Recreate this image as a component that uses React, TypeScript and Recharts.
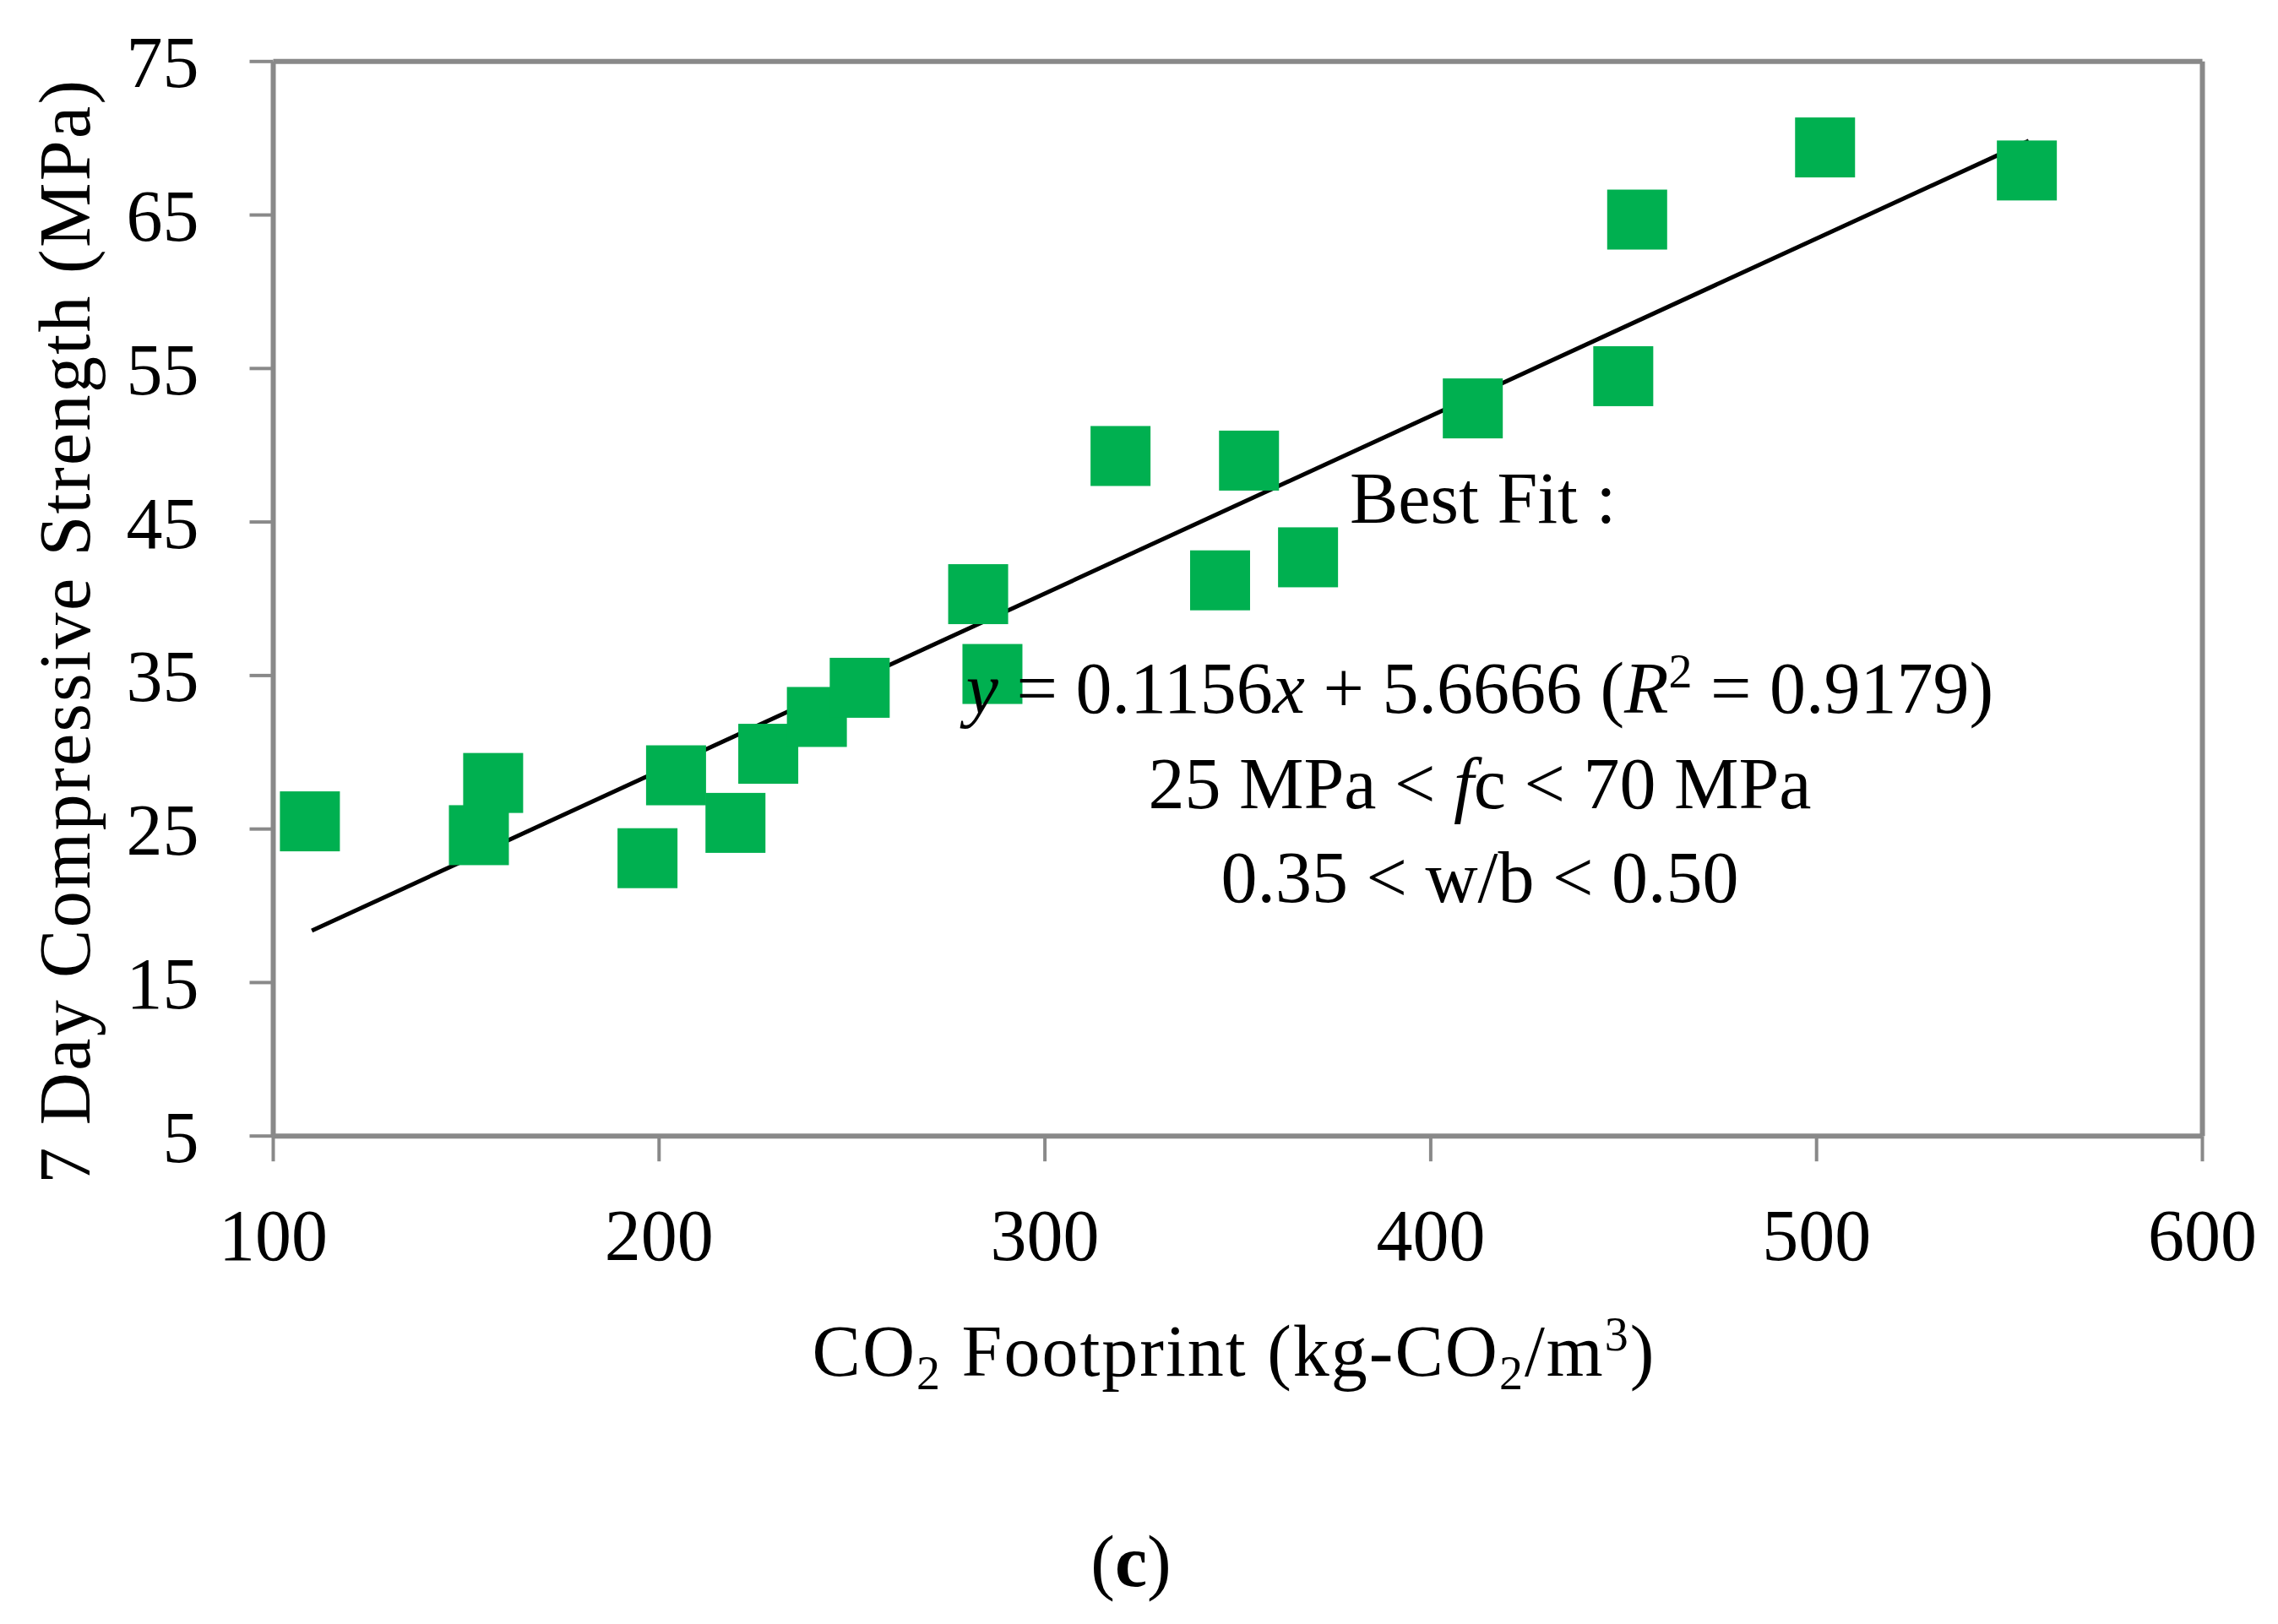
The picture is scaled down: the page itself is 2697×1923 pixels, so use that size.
import React from 'react';
import {
  ScatterChart,
  Scatter,
  XAxis,
  YAxis,
  ReferenceLine,
} from 'recharts';

// CO2 footprint (kg-CO2/m3) of each mix
const co2Footprint = [
  109.5, 153.3, 157.0, 197.0, 204.4, 219.8, 228.3, 240.9, 252.0, 282.7,
  286.4, 319.6, 345.4, 352.9, 368.2, 410.9, 449.9, 453.5, 502.2, 554.5,
];
// 7-day compressive strength (MPa) of each mix
const strength7Day = [
  25.5, 24.6, 28.0, 23.1, 28.5, 25.4, 29.9, 32.3, 34.2, 40.3,
  35.1, 49.3, 41.2, 49.0, 42.7, 52.4, 54.5, 64.7, 69.4, 67.9,
];

const xTicks = [100, 200, 300, 400, 500, 600];
const yTicks = [5, 15, 25, 35, 45, 55, 65, 75];

// best fit printed on the figure: y = 0.1156x + 5.6666
const fitSlope = 0.1156;
const fitIntercept = 5.6666;
const fitRange = [110, 555];

const W = 2697;
const H = 1923;
const FONT = '"Liberation Serif", "Times New Roman", serif';
const GREY = '#898989';
const GREEN = '#00B050';

const points = co2Footprint.map((x, i) => ({ x, y: strength7Day[i] }));
const fitSegment = fitRange.map((x) => ({ x, y: fitSlope * x + fitIntercept }));

function SquareMarker(props: { cx?: number; cy?: number }) {
  const { cx = 0, cy = 0 } = props;
  const s = 71;
  return <rect x={cx - s / 2} y={cy - s / 2} width={s} height={s} fill={GREEN} />;
}

// titles and the fit note sit above the markers, as in the original
function TextLayer() {
  return (
    <svg
      width={W}
      height={H}
      style={{ position: 'absolute', left: 0, top: 0, pointerEvents: 'none' }}
    >
      <g fontFamily={FONT} fill="#000" fontSize={86}>
        <text x={1598} y={619}>Best Fit :</text>
        <text x={1752} y={844} textAnchor="middle">
          <tspan fontStyle="italic">y</tspan> = 0.1156<tspan fontStyle="italic">x</tspan> + 5.6666 (
          <tspan fontStyle="italic">R</tspan>
          <tspan fontSize={56} dy={-30}>2</tspan>
          <tspan dy={30}> = 0.9179)</tspan>
        </text>
        <text x={1752} y={957} textAnchor="middle">
          25 MPa &lt; <tspan fontStyle="italic">f</tspan>c &lt; 70 MPa
        </text>
        <text x={1752} y={1068} textAnchor="middle">
          0.35 &lt; w/b &lt; 0.50
        </text>

        <text x={1461} y={1629} textAnchor="middle" letterSpacing={2}>
          CO<tspan fontSize={56} dy={16}>2</tspan>
          <tspan dy={-16}> Footprint (kg-CO</tspan>
          <tspan fontSize={56} dy={16}>2</tspan>
          <tspan dy={-16}>/m</tspan>
          <tspan fontSize={56} dy={-30}>3</tspan>
          <tspan dy={30}>)</tspan>
        </text>

        <text
          x={106}
          y={747}
          textAnchor="middle"
          letterSpacing={2.4}
          transform="rotate(-90 106 747)"
        >
          7 Day Compressive Strength (MPa)
        </text>

        <text x={1339} y={1878} textAnchor="middle">
          (<tspan fontWeight="bold">c</tspan>)
        </text>
      </g>
    </svg>
  );
}

export default function App() {
  return (
    <div style={{ position: 'absolute', left: 0, top: 0, width: W, height: H, background: '#fff' }}>
      <ScatterChart
        width={W}
        height={H}
        margin={{ top: 72.8, right: 89.5, bottom: 477.8, left: 223.5 }}
      >
        <XAxis
          type="number"
          dataKey="x"
          domain={[100, 600]}
          ticks={xTicks}
          height={100}
          axisLine={{ stroke: GREY, strokeWidth: 6 }}
          tickLine={{ stroke: GREY, strokeWidth: 4 }}
          tickSize={30}
          tickMargin={56}
          tick={{ fill: '#000', fontSize: 86, fontFamily: FONT }}
          interval={0}
        />
        <YAxis
          type="number"
          dataKey="y"
          domain={[5, 75]}
          ticks={yTicks}
          width={100}
          axisLine={{ stroke: GREY, strokeWidth: 6 }}
          tickLine={{ stroke: GREY, strokeWidth: 4 }}
          tickSize={28}
          tickMargin={60}
          tick={{ fill: '#000', fontSize: 86, fontFamily: FONT }}
          interval={0}
        />
        <ReferenceLine y={75} stroke={GREY} strokeWidth={6} />
        <ReferenceLine x={600} stroke={GREY} strokeWidth={6} />
        <Scatter data={points} shape={<SquareMarker />} isAnimationActive={false} />
        <ReferenceLine segment={fitSegment} stroke="#000" strokeWidth={5} />
      </ScatterChart>
      <TextLayer />
    </div>
  );
}
